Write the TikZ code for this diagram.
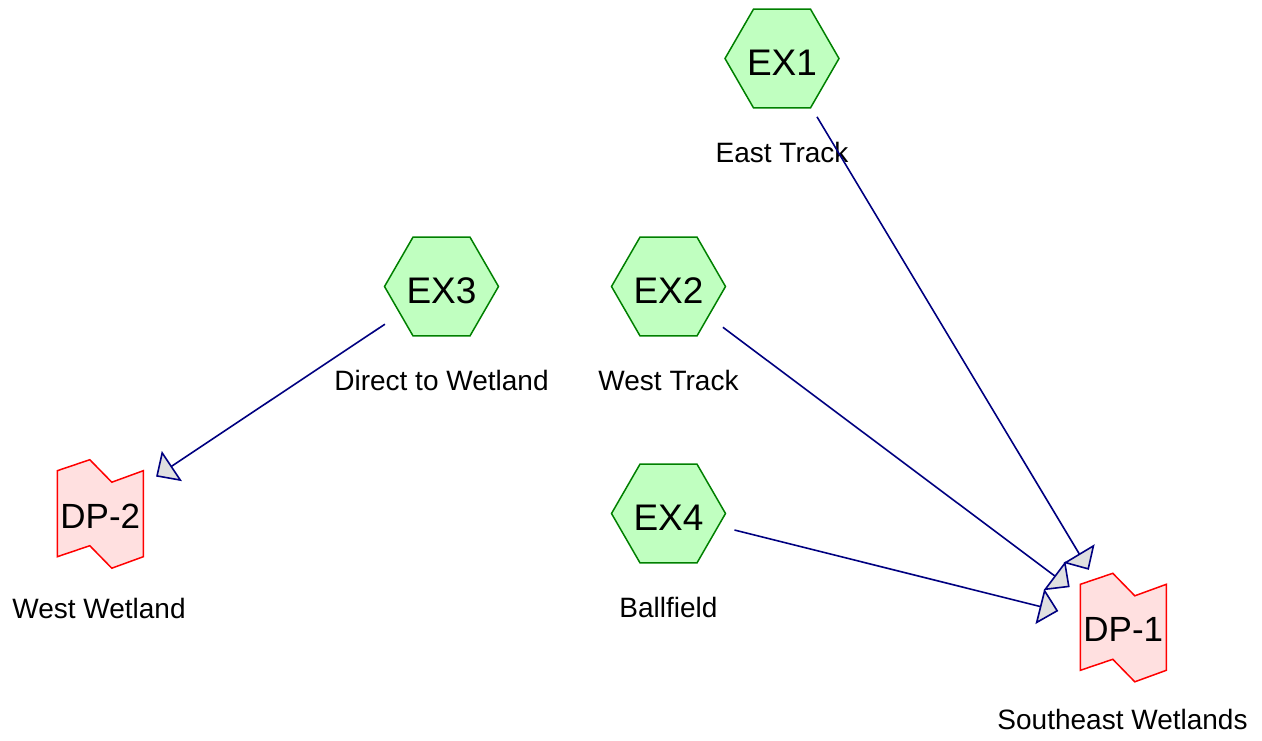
\documentclass[tikz,border=0pt]{standalone}
\usepackage{fontspec}
\setmainfont{Liberation Sans}
\usetikzlibrary{shapes.geometric,arrows.meta,calc}

\definecolor{flowline}{RGB}{0,0,128}
\definecolor{headfill}{RGB}{224,224,224}
\definecolor{exfill}{RGB}{192,255,192}
\definecolor{exline}{RGB}{0,128,0}
\definecolor{dpfill}{RGB}{255,224,224}
\definecolor{dpline}{RGB}{255,0,0}

\begin{document}
\begin{tikzpicture}[x=1pt,y=-1pt,
  exhex/.style={regular polygon, regular polygon sides=6, minimum size=114pt,
    inner sep=0pt, outer sep=0pt, draw=exline, fill=exfill, line width=1.5pt},
  extext/.style={inner sep=0pt, font=\fontsize{37}{37}\selectfont},
  dptext/.style={inner sep=0pt, font=\fontsize{35}{35}\selectfont},
  lbl/.style={anchor=base, inner sep=0pt, font=\fontsize{28}{28}\selectfont},
  flow/.style={draw=flowline, line width=1.6pt,
    -{Triangle[length=19pt,width=36pt,fill=headfill]}},
  dpflag/.pic={
    \draw[draw=dpline, fill=dpfill, line width=1.5pt]
      (-43,-43) -- (-10.5,-54) -- (11.5,-31.5) -- (43,-43)
      -- (43,43) -- (11.5,54.5) -- (-10.5,32) -- (-43,43) -- cycle;
  }
]
\useasboundingbox (0,0) rectangle (1262,740);

% catchment hexagons, with their names set on top
\node[exhex] (ex1) at (782,58.5) {};
\node[extext, anchor=base] (ex1t) at (782,75) {EX1};
\node[exhex] (ex2) at (668.5,286.5) {};
\node[extext, anchor=base] (ex2t) at (668.5,303) {EX2};
\node[exhex] (ex3) at (441.5,286.5) {};
\node[extext, anchor=base] (ex3t) at (441.5,303) {EX3};
\node[exhex] (ex4) at (668.5,513.5) {};
\node[extext, anchor=base] (ex4t) at (668.5,530) {EX4};

% discharge points
\pic at (100.3,513.7) {dpflag};
\node[dptext, anchor=base] (dp2) at (100.3,528.3) {DP-2};
\coordinate (dp2c) at (100.3,513.7);
\pic at (1123.3,627.3) {dpflag};
\node[dptext, anchor=base] (dp1) at (1123.3,641.7) {DP-1};
\coordinate (dp1c) at (1123.3,627.3);

% labels
\node[lbl] (ex1lbl) at (782,162.5) {East Track};
\node[lbl] (ex2lbl) at (668.5,390.5) {West Track};
\node[lbl] (ex3lbl) at (441.5,390.5) {Direct to Wetland};
\node[lbl] (ex4lbl) at (668.5,617.5) {Ballfield};
\node[lbl] (dp2lbl) at (99,618.3) {West Wetland};
\node[lbl] (dp1lbl) at (1122.5,729) {Southeast Wetlands};

% flow connectors
\draw[flow] ($(ex1.center)!68pt!(dp1c)$) -- ($(dp1c)!67pt!(ex1.center)$);
\draw[flow] ($(ex2.center)!68pt!(dp1c)$) -- ($(dp1c)!67pt!(ex2.center)$);
\draw[flow] ($(ex4.center)!68pt!(dp1c)$) -- ($(dp1c)!67pt!(ex4.center)$);
\draw[flow] ($(ex3.center)!68pt!(dp2c)$) -- ($(dp2c)!67pt!(ex3.center)$);
\end{tikzpicture}
\end{document}
